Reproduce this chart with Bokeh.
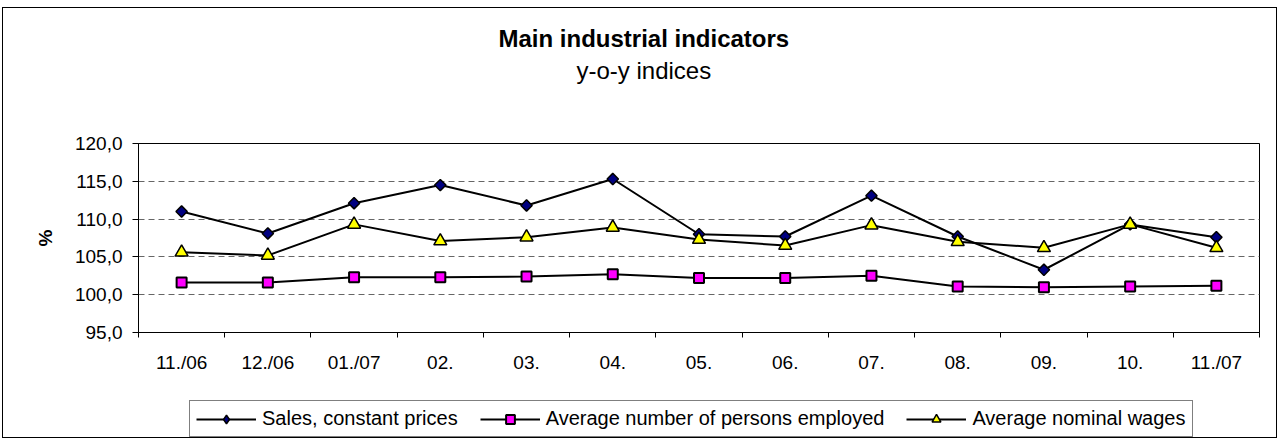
import numpy as np
from bokeh.plotting import figure
from bokeh.layouts import column
from bokeh.models import Range1d, FixedTicker, Legend, LegendItem, Title
from bokeh.embed import file_html
from bokeh.resources import INLINE

categories = ["11./06", "12./06", "01./07", "02.", "03.", "04.", "05.",
              "06.", "07.", "08.", "09.", "10.", "11./07"]
sales = [111.0, 108.1, 112.1, 114.5, 111.8, 115.3, 108.0, 107.7, 113.1, 107.7, 103.3, 109.3, 107.6]
employed = [101.6, 101.6, 102.3, 102.3, 102.4, 102.7, 102.2, 102.2, 102.5, 101.1, 101.0, 101.1, 101.2]
wages = [105.6, 105.2, 109.3, 107.1, 107.6, 108.9, 107.3, 106.5, 109.2, 107.0, 106.2, 109.3, 106.2]
y_ticks = [95, 100, 105, 110, 115, 120]
y_tick_labels = ["95,0", "100,0", "105,0", "110,0", "115,0", "120,0"]
series_names = ["Sales, constant prices", "Average number of persons employed", "Average nominal wages"]
title_text = "Main industrial indicators"
subtitle_text = "y-o-y indices"

FONT = "Liberation Sans"
n = len(categories)
x = list(range(1, n + 1))

styles = [
    dict(marker="square", angle=np.pi / 4, size=8, fill_color="#000080", line_color="black", line_width=1.5),
    dict(marker="square", angle=0.0, size=10, fill_color="#FF00FF", line_color="black", line_width=2),
    dict(marker="triangle", angle=0.0, size=13, fill_color="#FFFF00", line_color="black", line_width=1.5),
]
legend_markers = ["diamond", "square", "triangle"]

p = figure(frame_width=1121, frame_height=189, output_backend="svg", toolbar_location=None, tools="",
           x_range=Range1d(0.5, n + 0.5), y_range=Range1d(95, 120),
           min_border_left=135, min_border_right=17, min_border_top=135, min_border_bottom=58)
p.background_fill_color = "white"
p.border_fill_color = "white"
p.outline_line_color = "black"
p.outline_line_width = 1

# x axis
p.xaxis.ticker = FixedTicker(ticks=x, minor_ticks=[i - 0.5 for i in x] + [n + 0.5])
p.xaxis.major_label_overrides = {i: c for i, c in zip(x, categories)}
p.xaxis.major_tick_out = 0
p.xaxis.major_tick_in = 0
p.xaxis.minor_tick_out = 5
p.xaxis.minor_tick_in = 0
p.xaxis.minor_tick_line_color = "black"
p.xaxis.axis_line_color = "black"
p.xaxis.major_label_standoff = 14
p.xaxis.major_label_text_font = FONT
p.xaxis.major_label_text_font_size = "19px"
p.xaxis.major_label_text_color = "black"

# y axis
p.yaxis.ticker = FixedTicker(ticks=y_ticks, minor_ticks=[])
p.yaxis.major_label_overrides = {t: l for t, l in zip(y_ticks, y_tick_labels)}
p.yaxis.major_tick_out = 6
p.yaxis.major_tick_in = 0
p.yaxis.major_tick_line_color = "black"
p.yaxis.axis_line_color = "black"
p.yaxis.major_label_standoff = 10
p.yaxis.major_label_text_font = FONT
p.yaxis.major_label_text_font_size = "19px"
p.yaxis.major_label_text_color = "black"
p.yaxis.axis_label = "%"
p.yaxis.axis_label_text_font = FONT
p.yaxis.axis_label_text_font_style = "bold"
p.yaxis.axis_label_text_font_size = "19px"
p.yaxis.axis_label_text_color = "black"
p.yaxis.axis_label_standoff = 16

# grid
p.xgrid.visible = False
p.ygrid.ticker = FixedTicker(ticks=y_ticks)
p.ygrid.grid_line_color = "#666666"
p.ygrid.grid_line_dash = "6 4"
p.ygrid.grid_line_width = 1

# series
for vals, st in zip([sales, employed, wages], styles):
    p.line(x, vals, line_color="black", line_width=2)
    p.scatter(x, vals, **st)

# titles (stacked upward from the frame; first one is a spacer)
spacer = Title(text=" ", text_font=FONT, text_font_size="1px", standoff=55)
subtitle = Title(text=subtitle_text, align="left", offset=438, standoff=3,
                 text_font=FONT, text_font_size="24px", text_font_style="normal", text_color="black")
title = Title(text=title_text, align="left", offset=360, standoff=3,
              text_font=FONT, text_font_size="24px", text_font_style="bold", text_color="black")
p.add_layout(spacer, "above")
p.add_layout(subtitle, "above")
p.add_layout(title, "above")

# legend strip below the chart (legend-only glyphs with a single NaN point)
p2 = figure(width=1273, height=47, output_backend="svg", toolbar_location=None, tools="",
            x_range=Range1d(0, 1), y_range=Range1d(0, 1),
            min_border_left=0, min_border_right=0, min_border_top=0, min_border_bottom=0)
p2.axis.visible = False
p2.grid.visible = False
p2.outline_line_color = None
p2.background_fill_color = "white"
p2.border_fill_color = "white"
items = []
for name, st, mk in zip(series_names, styles, legend_markers):
    lr = p2.line(np.array([np.nan]), np.array([np.nan]), line_color="black", line_width=2)
    sr = p2.scatter(np.array([np.nan]), np.array([np.nan]), marker=mk, size=st["size"],
                    fill_color=st["fill_color"], line_color="black", line_width=st["line_width"])
    items.append(LegendItem(label=name, renderers=[lr, sr]))

legend = Legend(items=items, orientation="horizontal", location=(51, 0))
legend.label_text_font = FONT
legend.label_text_font_size = "20px"
legend.label_text_color = "black"
legend.glyph_width = 60
legend.glyph_height = 22
legend.label_height = 22
legend.label_standoff = 6
legend.spacing = 22
legend.padding = 6
legend.margin = 0
legend.border_line_color = "black"
legend.border_line_width = 1
legend.background_fill_color = "white"
legend.background_fill_alpha = 1
p2.add_layout(legend)

layout = column(p, p2, spacing=0, styles={"border": "1px solid black", "margin": "7px 0px 0px 2px"})

open("out.html", "w").write(file_html(layout, INLINE))
